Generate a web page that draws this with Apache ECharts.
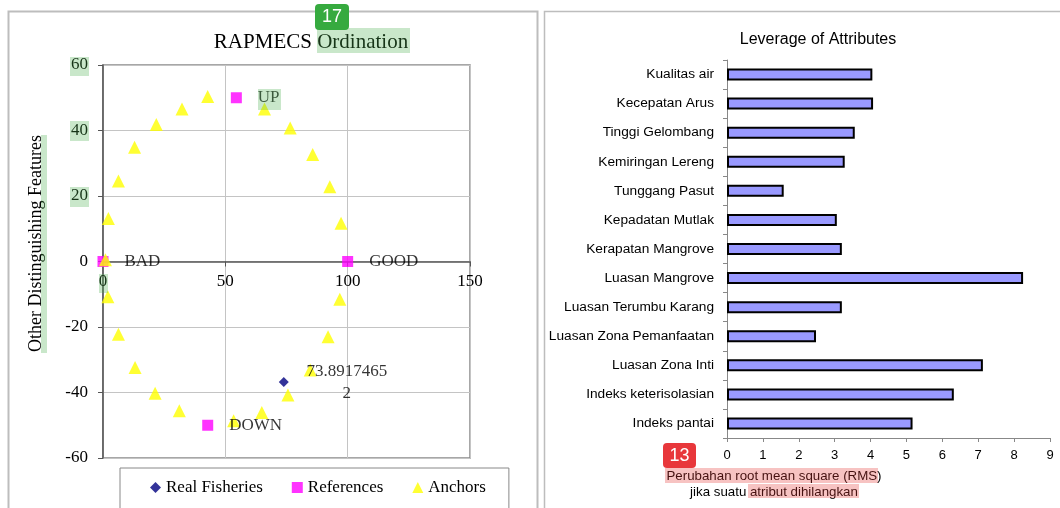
<!DOCTYPE html>
<html>
<head>
<meta charset="utf-8">
<script src="https://cdn.jsdelivr.net/npm/echarts@6/dist/echarts.min.js"></script>
<style>
html, body { margin: 0; padding: 0; background: #fff; }
#main { width: 1060px; height: 508px; }
</style>
</head>
<body>
<div id="main"></div>
<script>
// RAPMECS ordination (left)
var realFisheries = [[73.89, -36.8]];
var realLabel = '73.8917465\n2';
var refNames = ['GOOD', 'BAD', 'UP', 'DOWN'];
var refPoints = [[100, 0], [0, 0], [54.5, 50], [42.8, -50]];
var anchors = [
  [1, 0.5], [2.2, 13.1], [6.3, 24.6], [12.9, 34.9], [21.8, 41.8], [32.3, 46.6], [42.8, 50.4],
  [66.0, 46.6], [76.5, 40.8], [85.7, 32.7], [92.7, 22.8], [97.3, 11.7],
  [2.0, -10.8], [6.3, -22.2], [13.1, -32.4], [21.3, -40.2], [31.2, -45.6],
  [53.4, -48.6], [64.9, -46.1], [75.6, -40.8], [84.7, -33.1], [92.0, -23.0], [96.8, -11.5]
];

// Leverage of attributes (right)
var attributes = [
  'Kualitas air', 'Kecepatan Arus', 'Tinggi Gelombang', 'Kemiringan Lereng',
  'Tunggang Pasut', 'Kepadatan Mutlak', 'Kerapatan Mangrove', 'Luasan Mangrove',
  'Luasan Terumbu Karang', 'Luasan Zona Pemanfaatan', 'Luasan Zona Inti',
  'Indeks keterisolasian', 'Indeks pantai'
];
var rmsChange = [4.05, 4.07, 3.56, 3.28, 1.58, 3.06, 3.2, 8.25, 3.2, 2.48, 7.13, 6.32, 5.17];
var rmsAxisName = 'Perubahan root mean square (RMS)\njika suatu atribut dihilangkan';

var serif = 'Liberation Serif';
var sans = 'Liberation Sans';
var green = 'rgba(76,175,80,0.3)';
var red = 'rgba(229,57,53,0.3)';

var refData = refPoints.map(function (p, i) {
  return { name: refNames[i], value: p };
});

var myChart = echarts.init(document.getElementById('main'));
var option = {
  animation: false,
  title: [
    {
      text: 'RAPMECS Ordination', left: 306, top: 27, textAlign: 'center',
      textStyle: { fontFamily: serif, fontSize: 21, fontWeight: 'normal', color: '#000' }
    },
    {
      text: 'Leverage of Attributes', left: 813, top: 27, textAlign: 'center',
      textStyle: { fontFamily: sans, fontSize: 16, fontWeight: 'normal', color: '#000' }
    },
    {
      // x axis name of the leverage chart
      text: rmsAxisName, left: 769, top: 463, textAlign: 'center',
      textStyle: { fontFamily: sans, fontSize: 13.3, lineHeight: 16, fontWeight: 'normal', color: '#000' }
    }
  ],
  legend: {
    data: ['Real Fisheries', 'References', 'Anchors'],
    left: 120, top: 468,
    itemWidth: 11, itemHeight: 11, itemGap: 29,
    padding: [11, 23, 20, 30],
    borderColor: '#888', borderWidth: 1,
    textStyle: { fontFamily: serif, fontSize: 17, color: '#000' }
  },
  grid: [
    { left: 103, top: 65, width: 367, height: 393, show: true, borderColor: '#8a8a8a', borderWidth: 1.5, outerBoundsMode: 'none' },
    { left: 727, top: 60, width: 323, height: 378, outerBoundsMode: 'none' }
  ],
  xAxis: [
    {
      gridIndex: 0, type: 'value', min: 0, max: 150, interval: 50,
      offset: -196.5,
      axisLine: { onZero: false, lineStyle: { color: '#555', width: 1.5 } },
      axisTick: { show: true, length: 5, lineStyle: { color: '#555' } },
      axisLabel: { margin: 12, fontFamily: serif, fontSize: 17, color: '#000' },
      splitLine: { lineStyle: { color: '#c4c4c4' } }
    },
    {
      gridIndex: 1, type: 'value', min: 0, max: 9, interval: 1,
      axisLine: { show: true, lineStyle: { color: '#888' } },
      axisTick: { show: true, length: 4, lineStyle: { color: '#888' } },
      axisLabel: { margin: 11, fontFamily: sans, fontSize: 13, color: '#000' },
      splitLine: { show: false }
    }
  ],
  yAxis: [
    {
      gridIndex: 0, type: 'value', min: -60, max: 60, interval: 20,
      axisLine: { show: true, lineStyle: { color: '#555', width: 1.5 } },
      axisTick: { show: true, length: 5, lineStyle: { color: '#555' } },
      axisLabel: { margin: 15, fontFamily: serif, fontSize: 17, color: '#000' },
      splitLine: { lineStyle: { color: '#c4c4c4' } },
      name: 'Other Distinguishing Features', nameLocation: 'middle', nameRotate: 90, nameGap: 58,
      nameTextStyle: { fontFamily: serif, fontSize: 18, color: '#000', padding: [0, 0, 0, 36] }
    },
    {
      gridIndex: 1, type: 'category', data: attributes, inverse: true,
      axisLine: { show: true, lineStyle: { color: '#888' } },
      axisTick: { show: true, length: 4, lineStyle: { color: '#888' } },
      axisLabel: { margin: 13, fontFamily: sans, fontSize: 13.7, color: '#000' }
    }
  ],
  series: [
    {
      name: 'Real Fisheries', type: 'scatter', xAxisIndex: 0, yAxisIndex: 0,
      symbol: 'diamond', symbolSize: 10, itemStyle: { color: '#000080' },
      data: realFisheries,
      label: {
        show: true, position: 'inside', offset: [63, 1], formatter: realLabel,
        align: 'center', verticalAlign: 'middle', lineHeight: 22,
        fontFamily: serif, fontSize: 17, color: '#000'
      }
    },
    {
      name: 'References', type: 'scatter', xAxisIndex: 0, yAxisIndex: 0,
      symbol: 'rect', symbolSize: 11, itemStyle: { color: '#ff00ff' },
      data: refData,
      label: {
        show: true, position: 'right', distance: 16, formatter: '{b}',
        fontFamily: serif, fontSize: 17, color: '#000'
      }
    },
    {
      name: 'Anchors', type: 'scatter', xAxisIndex: 0, yAxisIndex: 0,
      symbol: 'triangle', symbolSize: 13, itemStyle: { color: '#ffff00' },
      data: anchors
    },
    {
      name: 'Leverage', type: 'bar', xAxisIndex: 1, yAxisIndex: 1,
      barWidth: 12, data: rmsChange,
      itemStyle: { color: '#9999ff', borderColor: '#000', borderWidth: 2 }
    }
  ],
  graphic: [
    // panel frames
    { type: 'rect', shape: { x: 8.5, y: 11.5, width: 529, height: 520 }, style: { fill: 'none', stroke: '#bdbdbd', lineWidth: 2 }, z: 0 },
    { type: 'rect', shape: { x: 544.5, y: 11.5, width: 530, height: 520 }, style: { fill: 'none', stroke: '#bdbdbd', lineWidth: 1.5 }, z: 0 },
    // highlight marks
    { type: 'rect', shape: { x: 317, y: 28, width: 93, height: 25 }, style: { fill: green }, z: 100 },
    { type: 'rect', shape: { x: 70, y: 57, width: 19, height: 19 }, style: { fill: green }, z: 100 },
    { type: 'rect', shape: { x: 70, y: 121, width: 19, height: 20 }, style: { fill: green }, z: 100 },
    { type: 'rect', shape: { x: 70, y: 187, width: 19, height: 20 }, style: { fill: green }, z: 100 },
    { type: 'rect', shape: { x: 99, y: 274, width: 9, height: 19 }, style: { fill: green }, z: 100 },
    { type: 'rect', shape: { x: 258, y: 89, width: 23, height: 21 }, style: { fill: green }, z: 100 },
    { type: 'rect', shape: { x: 41, y: 135, width: 6, height: 218 }, style: { fill: green }, z: 100 },
    { type: 'rect', shape: { x: 665, y: 468, width: 213, height: 15 }, style: { fill: red }, z: 100 },
    { type: 'rect', shape: { x: 748, y: 484, width: 111, height: 14 }, style: { fill: red }, z: 100 },
    // badges
    { type: 'rect', shape: { x: 315, y: 4, width: 34, height: 26, r: 4 }, style: { fill: '#36aa3f' }, z: 101 },
    { type: 'text', x: 332, y: 17, style: { text: '17', fill: '#fff', font: '18px "Liberation Sans"', align: 'center', verticalAlign: 'middle' }, z: 102 },
    { type: 'rect', shape: { x: 663, y: 443, width: 33, height: 25, r: 4 }, style: { fill: '#e8373b' }, z: 101 },
    { type: 'text', x: 679.5, y: 456, style: { text: '13', fill: '#fff', font: '18px "Liberation Sans"', align: 'center', verticalAlign: 'middle' }, z: 102 }
  ]
};
myChart.setOption(option);
</script>
</body>
</html>
